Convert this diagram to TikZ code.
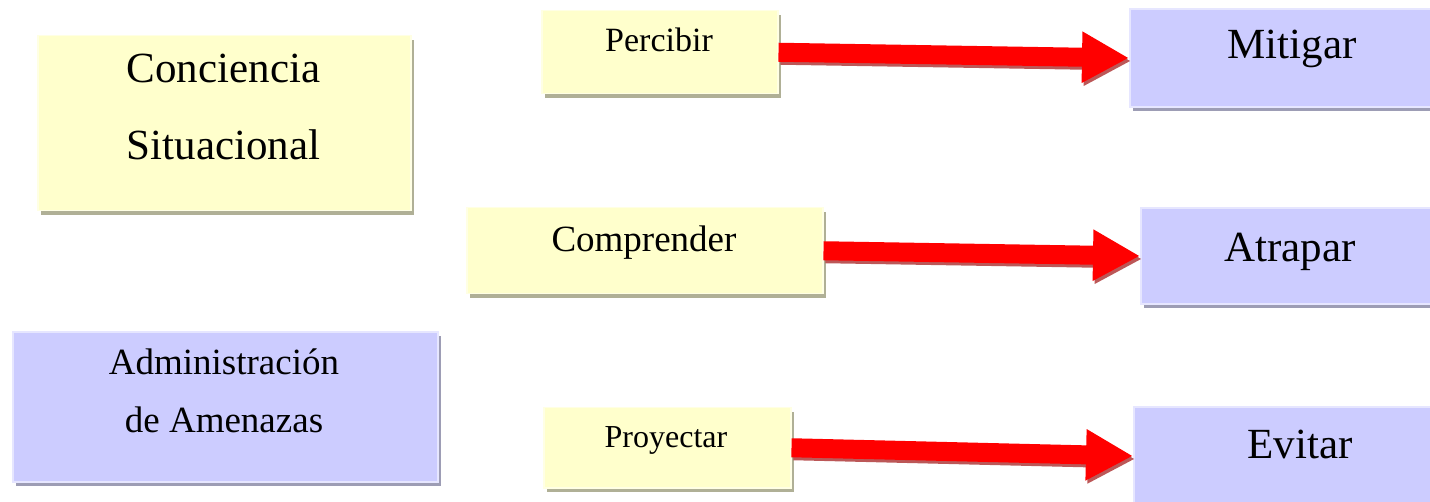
\documentclass[tikz,border=0pt]{standalone}
\usepackage{fontspec}
\setmainfont{Liberation Serif}
\usetikzlibrary{arrows.meta,shadows}
\definecolor{yfill}{HTML}{FFFFCC}
\definecolor{yedge}{HTML}{FFFFE4}
\definecolor{ysh}{HTML}{B0B096}
\definecolor{bfill}{HTML}{CCCCFF}
\definecolor{bedge}{HTML}{E6E6FF}
\definecolor{bsh}{HTML}{9D9DB5}
\definecolor{ashadow}{HTML}{B03A3A}
\tikzset{
  ybox/.style={fill=yfill, draw=yedge, line width=1.5pt, inner sep=0pt, anchor=north west,
    drop shadow={shadow xshift=3pt, shadow yshift=-4pt, fill=ysh, opacity=1}},
  bbox/.style={fill=bfill, draw=bedge, line width=2pt, inner sep=0pt, anchor=north west,
    drop shadow={shadow xshift=3pt, shadow yshift=-4pt, fill=bsh, opacity=1}},
  lbl/.style={anchor=base, inner sep=0pt},
  bigarrow/.style={draw=red, line width=19pt, -{Triangle[length=47pt,width=48pt]}},
  bigarrowsh/.style={draw=ashadow, opacity=0.85, line width=19pt, -{Triangle[length=47pt,width=48pt]},
    transform canvas={xshift=2pt,yshift=-3pt}}
}
\newcommand{\fs}[1]{\fontsize{#1}{#1}\selectfont}
\begin{document}
\begin{tikzpicture}[x=1pt,y=-1pt]
\useasboundingbox (0,0) rectangle (1430,502);
\clip (0,0) rectangle (1430,502);
% left boxes
\node[ybox, minimum width=373pt, minimum height=175pt] (cs) at (37,35) {};
\node[lbl, font=\fs{43}] (cs1) at (223.5,83) {Conciencia};
\node[lbl, font=\fs{43}] (cs2) at (223.5,160) {Situacional};
\node[bbox, minimum width=425pt, minimum height=150pt] (am) at (12,331) {};
\node[lbl, font=\fs{37}] (am1) at (224,375) {Administración};
\node[lbl, font=\fs{37}] (am2) at (224,432) {de Amenazas};
% middle boxes
\node[ybox, minimum width=236pt, minimum height=83pt] (perc) at (541,10) {};
\node[lbl, font=\fs{34}] (percT) at (659,52) {Percibir};
\node[ybox, minimum width=356pt, minimum height=86pt] (comp) at (466,207) {};
\node[lbl, font=\fs{37}] (compT) at (644,252) {Comprender};
\node[ybox, minimum width=247pt, minimum height=80pt] (proy) at (543,407) {};
\node[lbl, font=\fs{32}] (proyT) at (666,447) {Proyectar};
% right boxes
\node[bbox, minimum width=330pt, minimum height=98pt] (mit) at (1129,8) {};
\node[lbl, font=\fs{43}] (mitT) at (1292,59) {Mitigar};
\node[bbox, minimum width=330pt, minimum height=96pt] (atr) at (1140,207) {};
\node[lbl, font=\fs{43}] (atrT) at (1290,262) {Atrapar};
\node[bbox, minimum width=330pt, minimum height=98pt] (evi) at (1133,406) {};
\node[lbl, font=\fs{43}] (eviT) at (1300,458) {Evitar};
% arrows
\draw[bigarrowsh] (perc.east) -- (mit.west);
\draw[bigarrow] (perc.east) -- (mit.west);
\draw[bigarrowsh] (comp.east) -- (atr.west);
\draw[bigarrow] (comp.east) -- (atr.west);
\draw[bigarrowsh] (proy.east) -- (evi.west);
\draw[bigarrow] (proy.east) -- (evi.west);
\end{tikzpicture}
\end{document}
